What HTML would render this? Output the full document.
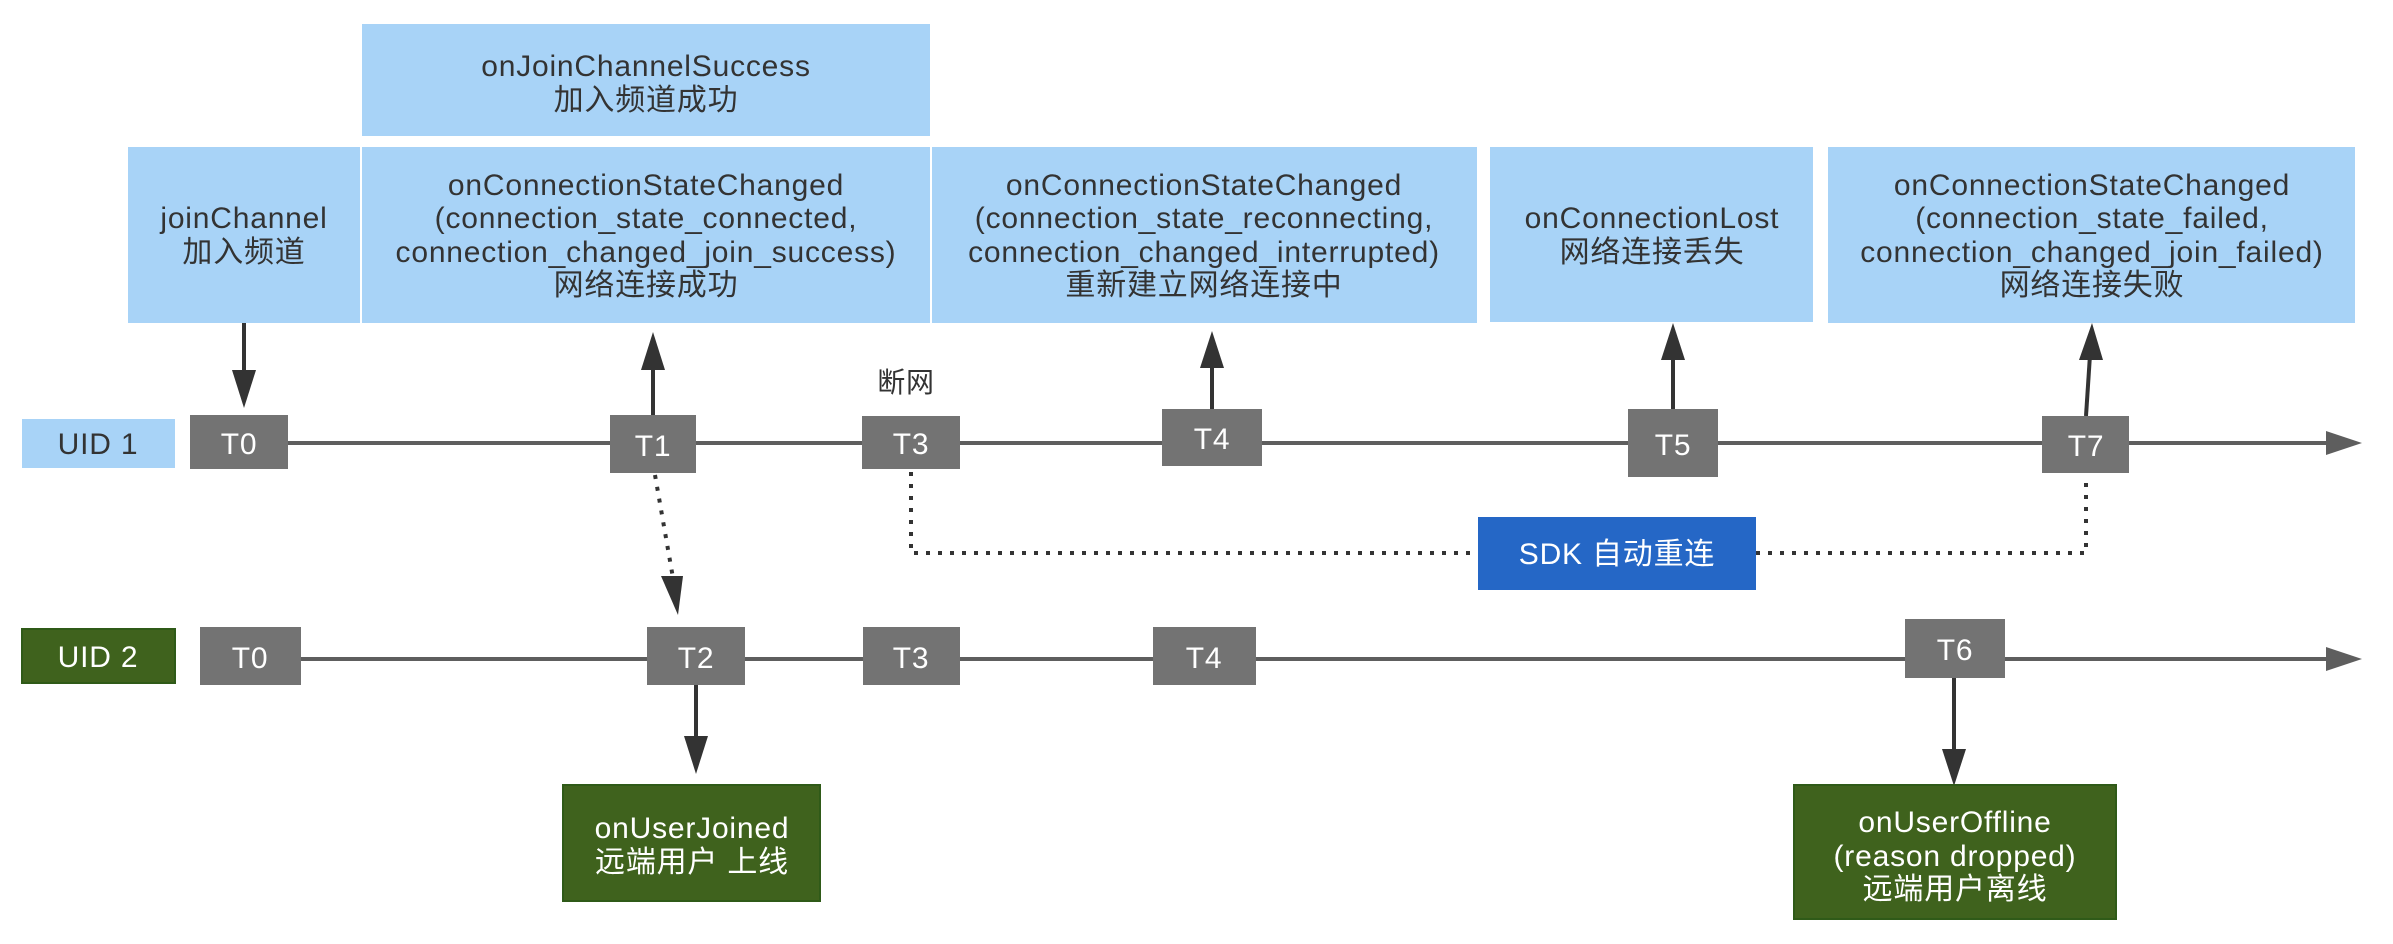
<!DOCTYPE html>
<html><head><meta charset="utf-8"><style>
html,body{margin:0;padding:0;background:#fff;}
svg{display:block;}
text{font-family:"Liberation Sans","Noto Sans CJK SC",sans-serif;font-size:30px;letter-spacing:0.8px;text-anchor:middle;}
.d{fill:#333;}
.w{fill:#fff;}
</style></head><body>
<svg width="2393" height="944" viewBox="0 0 2393 944" xmlns="http://www.w3.org/2000/svg">
<rect x="362" y="24" width="568" height="112" fill="#a8d3f7"/>
<text class="d" x="646" y="76">onJoinChannelSuccess</text>
<text class="d" x="646" y="110">加入频道成功</text>

<rect x="128" y="147" width="232" height="176" fill="#a8d3f7"/>
<text class="d" x="244" y="228">joinChannel</text>
<text class="d" x="244" y="262">加入频道</text>

<rect x="362" y="147" width="568" height="176" fill="#a8d3f7"/>
<text class="d" x="646" y="195">onConnectionStateChanged</text>
<text class="d" x="646" y="228">(connection_state_connected,</text>
<text class="d" x="646" y="262">connection_changed_join_success)</text>
<text class="d" x="646" y="295">网络连接成功</text>

<rect x="932" y="147" width="545" height="176" fill="#a8d3f7"/>
<text class="d" x="1204" y="195">onConnectionStateChanged</text>
<text class="d" x="1204" y="228">(connection_state_reconnecting,</text>
<text class="d" x="1204" y="262">connection_changed_interrupted)</text>
<text class="d" x="1204" y="295">重新建立网络连接中</text>

<rect x="1490" y="147" width="323" height="175" fill="#a8d3f7"/>
<text class="d" x="1652" y="228">onConnectionLost</text>
<text class="d" x="1652" y="262">网络连接丢失</text>

<rect x="1828" y="147" width="527" height="176" fill="#a8d3f7"/>
<text class="d" x="2092" y="195">onConnectionStateChanged</text>
<text class="d" x="2092" y="228">(connection_state_failed,</text>
<text class="d" x="2092" y="262">connection_changed_join_failed)</text>
<text class="d" x="2092" y="295">网络连接失败</text>

<line x1="288" y1="443" x2="2330" y2="443" stroke="#5e5e5e" stroke-width="4"/>
<polygon points="2326,431 2362,443 2326,455" fill="#5e5e5e"/>
<line x1="300" y1="659" x2="2330" y2="659" stroke="#5e5e5e" stroke-width="4"/>
<polygon points="2326,647 2362,659 2326,671" fill="#5e5e5e"/>

<g stroke="#333" stroke-width="4" stroke-dasharray="4 8" fill="none">
<polyline points="911,472 911,553 1478,553"/>
<polyline points="1756,553 2086,553 2086,476"/>
<line x1="655" y1="475" x2="673" y2="578"/>
</g>
<polygon points="661,576 683,576 678,615" fill="#333"/>

<g stroke="#333" stroke-width="4">
<line x1="244" y1="323" x2="244" y2="375"/>
<line x1="653" y1="415" x2="653" y2="365"/>
<line x1="1212" y1="409" x2="1212" y2="362"/>
<line x1="1673" y1="409" x2="1673" y2="355"/>
<line x1="2086" y1="416" x2="2090" y2="355"/>
<line x1="696" y1="685" x2="696" y2="740"/>
<line x1="1954" y1="678" x2="1954" y2="752"/>
</g>
<g fill="#333">
<polygon points="232,370 256,370 244,408"/>
<polygon points="641,370 665,370 653,332"/>
<polygon points="1200,368 1224,368 1212,331"/>
<polygon points="1661,360 1685,360 1673,323"/>
<polygon points="2079,360 2103,360 2092,323"/>
<polygon points="684,736 708,736 696,774"/>
<polygon points="1942,749 1966,749 1954,786"/>
</g>

<text class="d" x="906" y="392" style="font-size:28px">断网</text>

<rect x="22" y="419" width="153" height="49" fill="#a8d3f7"/>
<text class="d" x="98" y="454">UID 1</text>
<rect x="22" y="629" width="153" height="54" fill="#3f621d" stroke="#2f5a18" stroke-width="2"/>
<text class="w" x="98" y="667">UID 2</text>

<g fill="#737373">
<rect x="190" y="415" width="98" height="54"/>
<rect x="610" y="415" width="86" height="58"/>
<rect x="862" y="416" width="98" height="53"/>
<rect x="1162" y="409" width="100" height="57"/>
<rect x="1628" y="409" width="90" height="68"/>
<rect x="2042" y="416" width="87" height="57"/>
<rect x="200" y="627" width="101" height="58"/>
<rect x="647" y="627" width="98" height="58"/>
<rect x="863" y="627" width="97" height="58"/>
<rect x="1153" y="627" width="103" height="58"/>
<rect x="1905" y="619" width="100" height="59"/>
</g>
<text class="w" x="239" y="454">T0</text>
<text class="w" x="653" y="456">T1</text>
<text class="w" x="911" y="454">T3</text>
<text class="w" x="1212" y="449">T4</text>
<text class="w" x="1673" y="455">T5</text>
<text class="w" x="2086" y="456">T7</text>
<text class="w" x="250" y="668">T0</text>
<text class="w" x="696" y="668">T2</text>
<text class="w" x="911" y="668">T3</text>
<text class="w" x="1204" y="668">T4</text>
<text class="w" x="1955" y="660">T6</text>

<rect x="1478" y="517" width="278" height="73" fill="#2567c6"/>
<text class="w" x="1617" y="564">SDK 自动重连</text>

<rect x="563" y="785" width="257" height="116" fill="#3f621d" stroke="#2f5a18" stroke-width="2"/>
<text class="w" x="692" y="838">onUserJoined</text>
<text class="w" x="692" y="872">远端用户 上线</text>
<rect x="1794" y="785" width="322" height="134" fill="#3f621d" stroke="#2f5a18" stroke-width="2"/>
<text class="w" x="1955" y="832">onUserOffline</text>
<text class="w" x="1955" y="866">(reason dropped)</text>
<text class="w" x="1955" y="899">远端用户离线</text>
</svg>
</body></html>
